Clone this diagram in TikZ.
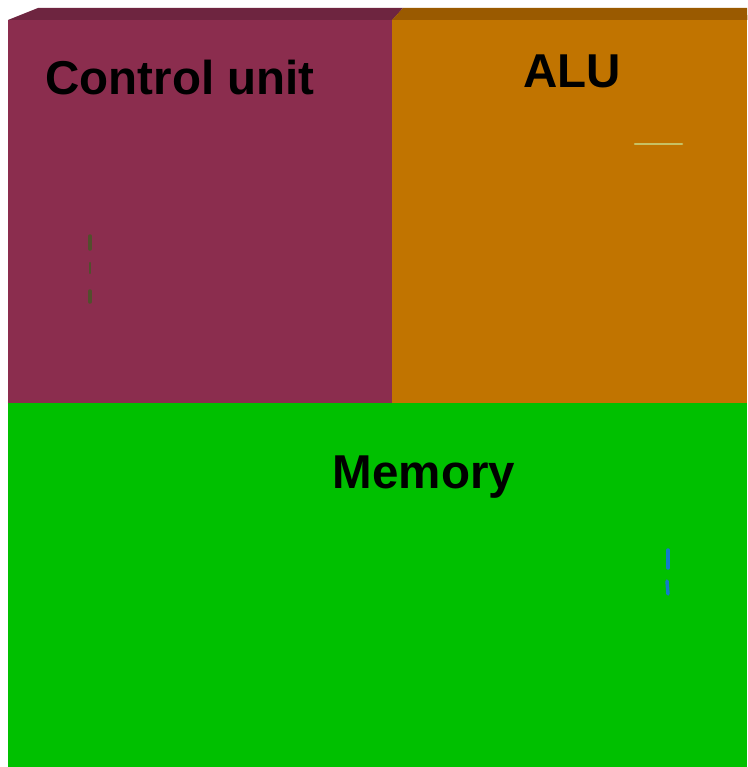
\documentclass[tikz,border=0pt]{standalone}
\usepackage{fontspec}
\setmainfont{Liberation Sans}
\usetikzlibrary{positioning}
\definecolor{cufront}{RGB}{139,45,78}
\definecolor{cutop}{RGB}{110,37,64}
\definecolor{alufront}{RGB}{193,116,0}
\definecolor{alutop}{RGB}{154,90,0}
\definecolor{memfront}{RGB}{0,192,0}
\tikzstyle{unitbox}=[draw=none, rectangle, inner sep=0pt, anchor=north west]
\tikzstyle{unitlabel}=[font=\fontsize{47.5}{50}\selectfont\bfseries, inner sep=0pt]
\tikzstyle{trace}=[line width=3.5pt, line cap=round]

\begin{document}
\begin{tikzpicture}[x=1pt, y=-1pt]
\useasboundingbox (0,0) rectangle (747,767);

\node (cu) [unitbox, fill=cufront, minimum width=384pt, minimum height=383pt] at (8,20) {};
\node (alu) [unitbox, fill=alufront, minimum width=355pt, minimum height=383pt] at (392,20) {};
\node (mem) [unitbox, fill=memfront, minimum width=739pt, minimum height=364pt] at (8,403) {};

% top faces
\fill [cutop] (cu.north west) -- (38,8) -- (403,8) -- (cu.north east) -- cycle;
\fill [alutop] (alu.north west) -- (403,8) -- (747,8) -- (alu.north east) -- cycle;

\node (culabel) [unitlabel] at (180,78) {Control unit};
\node (alulabel) [unitlabel] at (572,71) {ALU};
\node (memlabel) [unitlabel] at (424,477) {Memory};

% leftover marks
\draw [trace, black!55!olive] (90,236) -- (90,249);
\draw [trace, black!55!olive, line width=2.5pt] (90,263) -- (90,273);
\draw [trace, black!55!olive] (90,291) -- (90,302);
\draw [trace, olive!50!white, line width=2.5pt] (635,144) -- (682,144);
\draw [trace, cyan!60!blue] (668,550) -- (668,568);
\draw [trace, cyan!60!blue] (667,581) -- (668,594);

\end{tikzpicture}
\end{document}
